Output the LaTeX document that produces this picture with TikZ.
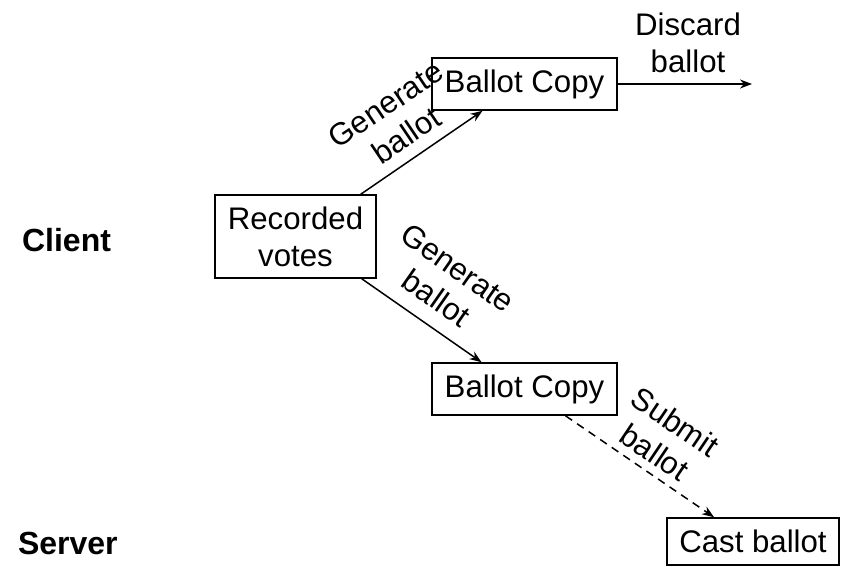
\documentclass[tikz,border=0pt]{standalone}
\usepackage{fontspec}
\setmainfont{Liberation Sans}
\usetikzlibrary{arrows.meta}

\begin{document}
\begin{tikzpicture}[x=0.5pt, y=-0.5pt,
  every node/.style={font=\fontsize{15.6}{18.5}\selectfont, align=center},
  box/.style={draw, line width=0.8pt, inner sep=0pt},
  side/.style={font=\fontsize{16}{19}\selectfont\bfseries, anchor=west},
  flow/.style={line width=0.75pt, -{Stealth[length=6pt, width=4.5pt]}}]

\useasboundingbox (0,0) rectangle (847,567);

% Side labels first, they stand apart from everything.
\node[side] (client) at (15,240) {Client};
\node[side] (server) at (11,543) {Server};

% Boxes, placed by hand at their centres.
\node[box, minimum width=80.5pt, minimum height=41.5pt] (rv)  at (295.5,236.5) {Recorded\\votes};
\node[box, minimum width=92.5pt, minimum height=26pt]   (bc1) at (524.5,84) {Ballot Copy};
\node[box, minimum width=92.5pt, minimum height=26pt]   (bc2) at (524.5,389) {Ballot Copy};
\node[box, minimum width=86pt,   minimum height=23.5pt] (cb)  at (753,541.5) {Cast ballot};

\coordinate (discard) at (752,84);

% Now the arrows.
\draw[flow] ([xshift=-8pt]rv.north east) -- ([xshift=-21pt]bc1.south);
\draw[flow] ([xshift=-7.5pt]rv.south east) -- ([xshift=-21.5pt]bc2.north);
\draw[flow] (bc1.east) -- (discard);
\draw[flow, dashed, dash pattern=on 4pt off 3pt] ([xshift=20.5pt]bc2.south) -- ([xshift=-19.5pt]cb.north);

% Arrow texts, turned along the arrows.
\node[rotate=34]  (gen1)   at (396,120) {Generate\\ballot};
\node[rotate=-35] (gen2)   at (447,283) {Generate\\ballot};
\node             (disc)   at (688,43)  {Discard\\ballot};
\node[rotate=-34] (submit) at (665,437) {Submit\\ballot};
\end{tikzpicture}
\end{document}
